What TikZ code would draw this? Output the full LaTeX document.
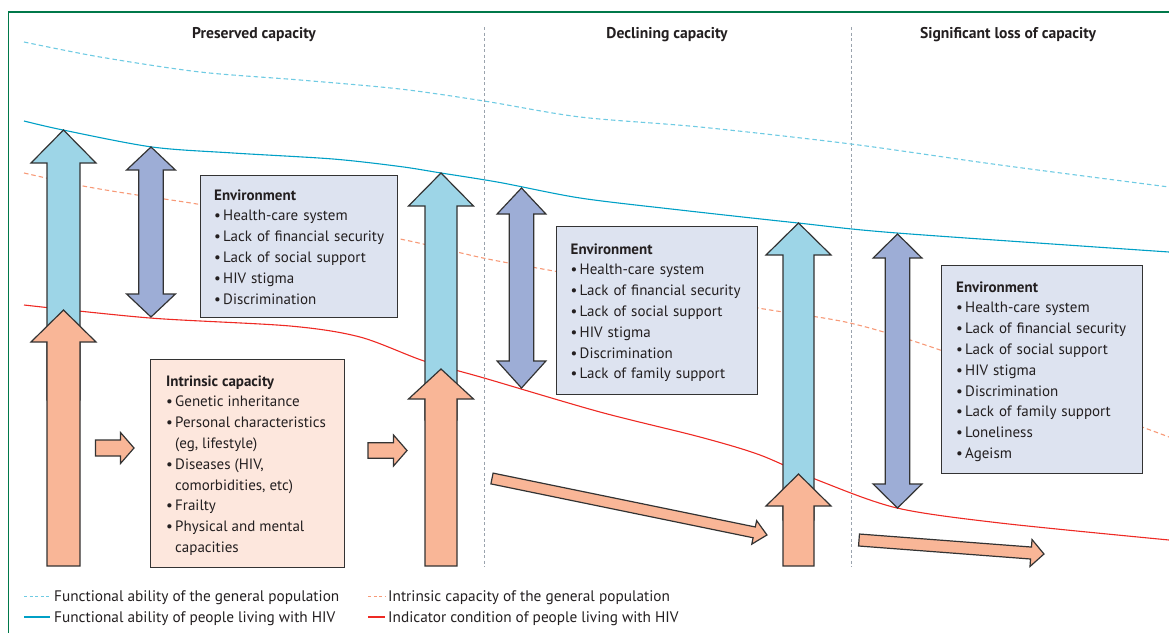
\documentclass[tikz,border=0pt]{standalone}
\usepackage{fontspec}
\setmainfont{PT Sans}
\definecolor{ablue}{HTML}{9DD5E7}
\definecolor{apurple}{HTML}{9DADD6}
\definecolor{aorange}{HTML}{F9B697}
\definecolor{envfill}{HTML}{DDE3F0}
\definecolor{intfill}{HTML}{FDE7DD}
\definecolor{lblue}{HTML}{00A0C6}
\definecolor{ldblue}{HTML}{6FCBE3}
\definecolor{lorange}{HTML}{F79A78}
\definecolor{lred}{HTML}{EE2A24}
\definecolor{framegreen}{RGB}{0,120,74}
\definecolor{vgray}{HTML}{9AA3AD}
\definecolor{outl}{HTML}{333333}
\definecolor{txt}{HTML}{231F20}
\newcommand\UpArr[7]{\draw[arr,fill=#1] ({#2-#6},#5) -- ({#2-#6},#4) -- ({#2-#7},#4) -- (#2,#3) -- ({#2+#7},#4) -- ({#2+#6},#4) -- ({#2+#6},#5) -- cycle;}
\newcommand\DArr[5]{\draw[arr,fill=apurple] ({#1-12.3},#3) -- ({#1-24.4},#3) -- (#1,#2) -- ({#1+24.4},#3) -- ({#1+12.3},#3) -- ({#1+12.3},#4) -- ({#1+24.4},#4) -- (#1,#5) -- ({#1-24.4},#4) -- ({#1-12.3},#4) -- cycle;}
\newcommand\RArr[6]{\draw[arr,fill=aorange] (#1,{#2-#4}) -- (#5,{#2-#4}) -- (#5,{#2-#6}) -- (#3,#2) -- (#5,{#2+#6}) -- (#5,{#2+#4}) -- (#1,{#2+#4}) -- cycle;}
\newcommand\hd[1]{\setlength{\parskip}{0pt}\setlength{\parindent}{0pt}\noindent\textbf{#1}\par}
\newcommand\itm[1]{\noindent\hbox to 9pt{•\hss}#1\par}
\begin{document}
\begin{tikzpicture}[x=1pt,y=-1pt,
  arr/.style={draw=outl, line width=1.2pt, line join=miter},
  crv/.style={line width=1.1pt},
  dsh/.style={dash pattern=on 4.5pt off 3pt},
  boxstyle/.style={draw=outl, line width=1.3pt, inner sep=0pt, anchor=north west},
  boxtext/.style={anchor=base west, inner sep=0pt, text width=200pt, text=txt, font=\fontsize{15}{20.8}\selectfont},
  lntext/.style={anchor=base west, inner sep=0pt, text=txt, font=\fontsize{15}{18}\selectfont},
  title/.style={text=txt, font=\fontsize{15.6}{18}\selectfont\bfseries, inner sep=0pt},
  legtext/.style={anchor=base west, inner sep=0pt, text=txt, font=\fontsize{15.3}{18}\selectfont}
]
\useasboundingbox (0,0) rectangle (1169,632);
% frame
\draw[framegreen, line width=1.6pt] (8.5,640) -- (8.5,12) -- (1180,12);
% titles
\node[title] (t1) at (254,35) {Preserved capacity};
\node[title] (t2) at (667,35) {Declining capacity};
\node[title] (t3) at (1008,35) {Significant loss of capacity};
% vertical separators
\draw[vgray, line width=0.9pt, dash pattern=on 3pt off 2.5pt] (484,27) -- (484,567);
\draw[vgray, line width=0.9pt, dash pattern=on 3pt off 2.5pt] (851,27) -- (851,567);
% curves
\draw[ldblue, crv, dsh] plot[smooth, tension=0.5] coordinates {(24,42) (100,57) (200,72) (300,80) (400,89) (484,101) (580,117) (700,127) (851,144) (1000,165) (1169,187)};
\draw[lblue, crv] plot[smooth, tension=0.5] coordinates {(24,121) (63,130) (152,147) (233,153) (333,159) (400,166.5) (441,173) (500,182.5) (580,198) (680,210) (798,223) (897,233) (1169,252)};
\draw[lorange, crv, dsh] plot[smooth, tension=0.5] coordinates {(24,173) (83,186) (137,195) (197,204) (300,222) (400,239) (483,258) (537,268) (650,288) (758,308) (850,323) (940,350) (1040,390) (1142,427) (1169,437)};
\draw[lred, crv] plot[smooth, tension=0.5] coordinates {(24,305) (150,318) (290,326) (360,337) (424,361) (484,378) (600,412) (700,437) (760,455) (820,481) (897,508) (1000,523) (1169,540)};
% big arrows
\UpArr{ablue}{63.5}{130}{163}{400}{16.5}{32.5}
\UpArr{aorange}{63.5}{310}{342}{566}{16.5}{32.5}
\UpArr{ablue}{441}{173}{206}{420}{16}{32.5}
\UpArr{aorange}{441}{369}{399}{566}{16}{32.5}
\UpArr{ablue}{798.5}{223}{255}{520}{15.5}{32.5}
\UpArr{aorange}{798.5}{474}{506}{566}{15.5}{32.5}
% double arrows
\DArr{151}{147}{170}{294}{317}
\DArr{521.5}{188}{214}{361}{388}
\DArr{897.5}{234}{258}{484}{508}
% small arrows
\RArr{95.5}{448}{134}{8}{120.5}{15.5}
\RArr{368}{450.5}{407}{7.8}{393.5}{15.5}
% diagonal arrows
\begin{scope}[shift={(492,478.5)}, rotate=-11.61]
\draw[arr,fill=aorange] (0,5.5) -- (267.7,5.5) -- (267.7,12) -- (280.7,0) -- (267.7,-12) -- (267.7,-5.5) -- (0,-5.5) -- cycle;
\end{scope}
\begin{scope}[shift={(859,540)}, rotate=-4.33]
\draw[arr,fill=aorange] (0,6) -- (172.5,6) -- (172.5,13.5) -- (185.5,0) -- (172.5,-13.5) -- (172.5,-6) -- (0,-6) -- cycle;
\end{scope}
% boxes
\node[boxstyle, fill=envfill, minimum width=197pt, minimum height=142pt] (env1) at (200,175) {};
\node[boxstyle, fill=envfill, minimum width=201pt, minimum height=168pt] (env2) at (556,226) {};
\node[boxstyle, fill=envfill, minimum width=201pt, minimum height=208pt] (env3) at (941,265) {};
\node[boxstyle, fill=intfill, minimum width=194pt, minimum height=208pt] (intr) at (150,359) {};
% box texts
\node[boxtext] (env1t) at (214,200) {\hd{Environment}\itm{Health-care system}\itm{Lack of financial security}\itm{Lack of social support}\itm{HIV stigma}\itm{Discrimination}};
\node[boxtext] (env2t) at (570.5,254) {\hd{Environment}\itm{Health-care system}\itm{Lack of financial security}\itm{Lack of social support}\itm{HIV stigma}\itm{Discrimination}\itm{Lack of family support}};
\node[boxtext] (env3t) at (956,292) {\hd{Environment}\itm{Health-care system}\itm{Lack of financial security}\itm{Lack of social support}\itm{HIV stigma}\itm{Discrimination}\itm{Lack of family support}\itm{Loneliness}\itm{Ageism}};
\node[lntext] (i0) at (166,386) {\textbf{Intrinsic capacity}};
\node[lntext] (i1) at (166,406.8) {\hbox to 9pt{•\hss}Genetic inheritance};
\node[lntext] (i2) at (166,427.6) {\hbox to 9pt{•\hss}Personal characteristics};
\node[lntext] (i3) at (175,448.4) {(eg, lifestyle)};
\node[lntext] (i4) at (166,469.2) {\hbox to 9pt{•\hss}Diseases (HIV,};
\node[lntext] (i5) at (175,490) {comorbidities, etc)};
\node[lntext] (i6) at (166,510.8) {\hbox to 9pt{•\hss}Frailty};
\node[lntext] (i7) at (166,531.6) {\hbox to 9pt{•\hss}Physical and mental};
\node[lntext] (i8) at (175,552.4) {capacities};
% legend
\coordinate (l1a) at (24,596); \coordinate (l1b) at (50,596);
\coordinate (l2a) at (24,617); \coordinate (l2b) at (50,617);
\coordinate (l3a) at (368,596); \coordinate (l3b) at (385,596);
\coordinate (l4a) at (368,617); \coordinate (l4b) at (385,617);
\draw[ldblue, line width=1pt, dash pattern=on 3pt off 2.5pt] (l1a) -- (l1b);
\draw[lblue, line width=1.1pt] (l2a) -- (l2b);
\draw[lorange, line width=1pt, dash pattern=on 3pt off 2.5pt] (l3a) -- (l3b);
\draw[lred, line width=1.1pt] (l4a) -- (l4b);
\node[legtext] (g1) at (54,601) {Functional ability of the general population};
\node[legtext] (g2) at (54,622) {Functional ability of people living with HIV};
\node[legtext] (g3) at (388,601) {Intrinsic capacity of the general population};
\node[legtext] (g4) at (388,622) {Indicator condition of people living with HIV};
\end{tikzpicture}
\end{document}
